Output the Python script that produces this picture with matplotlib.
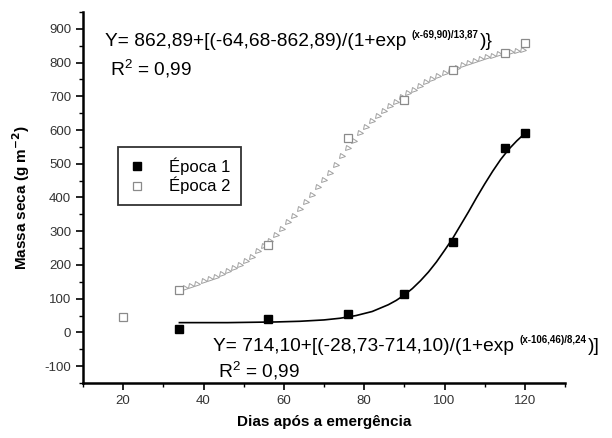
import matplotlib
matplotlib.use("Agg")
import matplotlib.pyplot as plt
from matplotlib.ticker import MultipleLocator

plt.rcParams['font.family'] = ['Liberation Sans', 'DejaVu Sans']
plt.rcParams['axes.unicode_minus'] = False

# Observed data
dias_e1 = [34, 56, 76, 90, 102, 115, 120]
massa_e1 = [9, 40, 55, 115, 269, 548, 591]
dias_e2 = [20, 34, 56, 76, 90, 102, 115, 120]
massa_e2 = [45, 127, 259, 577, 688, 777, 828, 857]

# Fitted curve Época 1 (solid line)
fit1_x = [34, 40, 46, 52, 58, 64, 70, 74, 78, 82, 86, 88, 90, 92, 94, 96, 98,
          100, 102, 104, 106, 108, 110, 112, 114, 116, 118, 120]
fit1_y = [29, 29, 29, 30, 31, 33, 37, 42, 50, 62, 82, 95, 111, 130, 153, 179,
          209, 243, 278, 318, 358, 400, 440, 478, 513, 543, 568, 590]

# Fitted curve Época 2 (triangles)
fit2_x = [34, 35.5, 37, 38.5, 40, 41.5, 43, 44.5, 46, 47.5, 49, 50.5, 52, 53.5,
          55, 56.5, 58, 59.5, 61, 62.5, 64, 65.5, 67, 68.5, 70, 71.5, 73, 74.5,
          76, 77.5, 79, 80.5, 82, 83.5, 85, 86.5, 88, 89.5, 91, 92.5, 94, 95.5,
          97, 98.5, 100, 101.5, 103, 104.5, 106, 107.5, 109, 110.5, 112, 113.5,
          115, 116.5, 118, 119.5]
fit2_y = [127, 133, 138, 144, 151, 158, 165, 173, 182, 191, 201, 212, 225, 240,
          256, 272, 290, 308, 326, 345, 365, 386, 408, 430, 452, 474, 496, 522,
          548, 569, 590, 609, 626, 642, 657, 671, 684, 697, 709, 720, 731, 741,
          751, 760, 769, 777, 785, 792, 799, 805, 811, 816, 821, 825, 829, 832,
          835, 838]

xticks = [20, 40, 60, 80, 100, 120]
yticks = [-100, 0, 100, 200, 300, 400, 500, 600, 700, 800, 900]

fig = plt.figure(figsize=(6.12, 4.38), dpi=100)
ax = fig.add_axes([83/612, 1-383/438, (565-83)/612, (383-12)/438])

gray = '#8a8a8a'
ax.plot(fit2_x, fit2_y, linestyle='none', marker='>', markersize=3.6,
        markerfacecolor='white', markeredgecolor='#a0a0a0', markeredgewidth=0.7, zorder=2)
ax.plot(fit1_x, fit1_y, color='black', linewidth=1.2, zorder=3)
ax.plot(dias_e2, massa_e2, linestyle='none', marker='s', markersize=6,
        markerfacecolor='white', markeredgecolor=gray, markeredgewidth=0.9,
        label='Época 2', zorder=4)
ax.plot(dias_e1, massa_e1, linestyle='none', marker='s', markersize=5.3,
        markerfacecolor='black', markeredgecolor='black',
        label='Época 1', zorder=5)

ax.set_xlim(10, 130)
ax.set_ylim(-150, 950)
ax.set_xticks(xticks)
ax.set_yticks(yticks)
ax.xaxis.set_minor_locator(MultipleLocator(10))
ax.yaxis.set_minor_locator(MultipleLocator(50))
for s in ['top', 'right']:
    ax.spines[s].set_visible(False)
for s in ['left', 'bottom']:
    ax.spines[s].set_linewidth(1.8)
ax.tick_params(which='major', direction='out', length=5, width=1.2,
               labelsize=9.5, labelcolor='#333333')
ax.tick_params(which='minor', direction='out', length=3, width=1.0)

ax.set_xlabel('Dias após a emergência', fontsize=11, fontweight='bold', labelpad=6)
ax.set_ylabel('Massa seca (g m$^{\\mathbf{-2}}$)', fontsize=11, fontweight='bold', labelpad=9)

handles, labels = ax.get_legend_handles_labels()
leg = ax.legend(handles[::-1], labels[::-1], loc='upper left',
                bbox_to_anchor=((118-83)/482, 1-(147-12)/371),
                frameon=True, fancybox=False, edgecolor='black', fontsize=12,
                handlelength=1.0, handletextpad=1.4, borderpad=0.65,
                labelspacing=0.1, borderaxespad=0)
leg.get_frame().set_linewidth(1.3)
for lh in leg.legend_handles:
    lh.set_markersize(5.3)

def eq(x_px, y_px, main, sup, tail, fs=13.8, sfs=7.0):
    t1 = fig.text(x_px/612, 1-y_px/438, main, fontsize=fs, va='baseline', ha='left')
    fig.canvas.draw()
    r = fig.canvas.get_renderer()
    b = t1.get_window_extent(r)
    t2 = fig.text((b.x1+5)/612, 1-(y_px-8)/438, sup, fontsize=sfs, fontweight='bold',
                  va='baseline', ha='left')
    b2 = t2.get_window_extent(r)
    fig.text((b2.x1+2)/612, 1-y_px/438, tail, fontsize=fs, va='baseline', ha='left')

eq(105, 46, 'Y= 862,89+[(-64,68-862,89)/(1+exp', '(x-69,90)/13,87', ')}')
fig.text(110/612, 1-75/438, 'R$^\\mathregular{2}$ = 0,99', fontsize=13.8, va='baseline')
eq(213, 351, 'Y= 714,10+[(-28,73-714,10)/(1+exp', '(x-106,46)/8,24', ')]')
fig.text(218/612, 1-378/438, 'R$^\\mathregular{2}$ = 0,99', fontsize=13.8, va='baseline')

fig.savefig('out.png', dpi=100)
